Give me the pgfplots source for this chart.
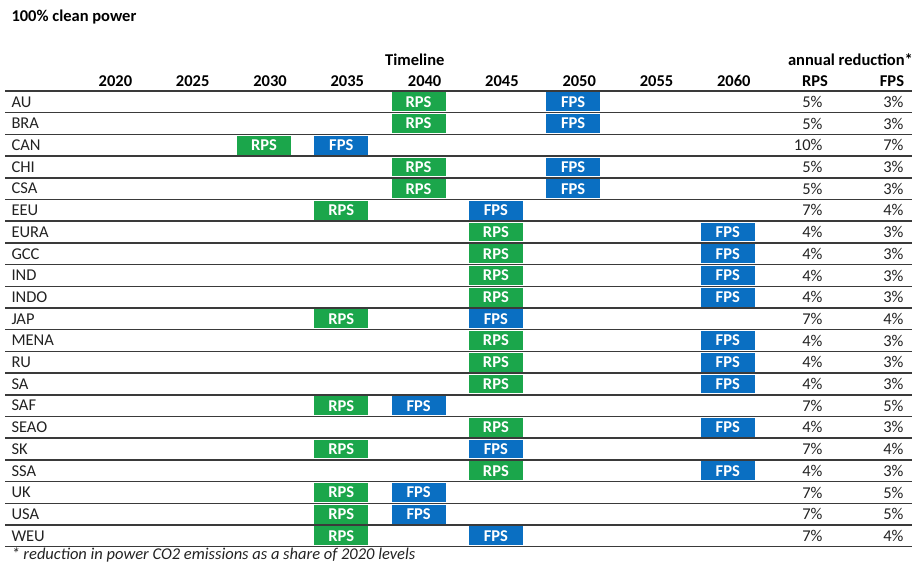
\documentclass[border=0pt]{standalone}
\usepackage{pgfplots}
\pgfplotsset{compat=1.18}
\usepackage{pgfplotstable}
\usepackage{fontspec}
\setmainfont{Carlito}
\definecolor{rpsgreen}{HTML}{1BA64B}
\definecolor{fpsblue}{HTML}{0A6FC2}
\definecolor{rulegray}{HTML}{3A3A3A}
\definecolor{txt}{HTML}{222222}

\pgfdeclareplotmark{cellbox}{%
  \pgfpathrectangle{\pgfpoint{-27pt}{-9.4pt}}{\pgfpoint{54pt}{18.8pt}}%
  \pgfusepathqfill}

% row index, region, RPS year, FPS year, annual reduction RPS, FPS (%)
\pgfplotstableread{
row name rps fps rpsr fpsr
0 AU 2040 2050 5 3
1 BRA 2040 2050 5 3
2 CAN 2030 2035 10 7
3 CHI 2040 2050 5 3
4 CSA 2040 2050 5 3
5 EEU 2035 2045 7 4
6 EURA 2045 2060 4 3
7 GCC 2045 2060 4 3
8 IND 2045 2060 4 3
9 INDO 2045 2060 4 3
10 JAP 2035 2045 7 4
11 MENA 2045 2060 4 3
12 RU 2045 2060 4 3
13 SA 2045 2060 4 3
14 SAF 2035 2040 7 5
15 SEAO 2045 2060 4 3
16 SK 2035 2045 7 4
17 SSA 2045 2060 4 3
18 UK 2035 2040 7 5
19 USA 2035 2040 7 5
20 WEU 2035 2045 7 4
}\data

\pgfplotstableread{
x label
2021.7 2020
2026.7 2025
2031.7 2030
2036.7 2035
2041.7 2040
2046.7 2045
2051.7 2050
2056.7 2055
2061.7 2060
}\yearheads

\newcommand{\fs}{\fontsize{16.5}{19}\selectfont}

\begin{document}
\begin{tikzpicture}[font=\fs]
\begin{axis}[
  width=918pt, height=564pt, scale only axis,
  xmin=2012.924, xmax=2072.303,
  ymin=-4.6935, ymax=21.297, y dir=reverse,
  hide axis, clip=false,
  unbounded coords=jump,
  /pgf/number format/assume math mode=true,
]
\path (rel axis cs:0,0) rectangle (rel axis cs:1,1);
% row rules
\addplot[rulegray, line width=1.5pt, forget plot] coordinates {
(2013.25,-0.5) (2071.92,-0.5) (2013.25,nan)
(2013.25,0.5) (2071.92,0.5) (2013.25,nan)
(2013.25,1.5) (2071.92,1.5) (2013.25,nan)
(2013.25,2.5) (2071.92,2.5) (2013.25,nan)
(2013.25,3.5) (2071.92,3.5) (2013.25,nan)
(2013.25,4.5) (2071.92,4.5) (2013.25,nan)
(2013.25,5.5) (2071.92,5.5) (2013.25,nan)
(2013.25,6.5) (2071.92,6.5) (2013.25,nan)
(2013.25,7.5) (2071.92,7.5) (2013.25,nan)
(2013.25,8.5) (2071.92,8.5) (2013.25,nan)
(2013.25,9.5) (2071.92,9.5) (2013.25,nan)
(2013.25,10.5) (2071.92,10.5) (2013.25,nan)
(2013.25,11.5) (2071.92,11.5) (2013.25,nan)
(2013.25,12.5) (2071.92,12.5) (2013.25,nan)
(2013.25,13.5) (2071.92,13.5) (2013.25,nan)
(2013.25,14.5) (2071.92,14.5) (2013.25,nan)
(2013.25,15.5) (2071.92,15.5) (2013.25,nan)
(2013.25,16.5) (2071.92,16.5) (2013.25,nan)
(2013.25,17.5) (2071.92,17.5) (2013.25,nan)
(2013.25,18.5) (2071.92,18.5) (2013.25,nan)
(2013.25,19.5) (2071.92,19.5) (2013.25,nan)
(2013.25,20.5) (2071.92,20.5)
};
% RPS boxes
\addplot[only marks, mark=cellbox, color=rpsgreen,
  nodes near coords={RPS},
  every node near coord/.append style={anchor=center, text=white, font=\fs\bfseries}]
  table[x=rps, y=row] {\data};
% FPS boxes
\addplot[only marks, mark=cellbox, color=fpsblue,
  nodes near coords={FPS},
  every node near coord/.append style={anchor=center, text=white, font=\fs\bfseries}]
  table[x=fps, y=row] {\data};
% row names
\addplot[only marks, mark=none, point meta=explicit symbolic,
  nodes near coords,
  every node near coord/.append style={anchor=west, text=txt}]
  table[x expr=2013.44, y=row, meta=name] {\data};
% annual reduction RPS
\addplot[only marks, mark=none, point meta=\thisrow{rpsr},
  nodes near coords={\pgfmathprintnumber{\pgfplotspointmeta}\%},
  every node near coord/.append style={anchor=east, text=txt}]
  table[x expr=2066.35, y=row] {\data};
% annual reduction FPS
\addplot[only marks, mark=none, point meta=\thisrow{fpsr},
  nodes near coords={\pgfmathprintnumber{\pgfplotspointmeta}\%},
  every node near coord/.append style={anchor=east, text=txt}]
  table[x expr=2071.59, y=row] {\data};
% year headers
\addplot[only marks, mark=none, point meta=explicit symbolic,
  nodes near coords,
  every node near coord/.append style={anchor=east, text=black, font=\fs\bfseries}]
  table[x=x, y expr=-0.96, meta=label] {\yearheads};

\node[anchor=center, font=\fs\bfseries] at (axis cs:2065.64,-0.96) {RPS};
\node[anchor=center, font=\fs\bfseries] at (axis cs:2070.62,-0.96) {FPS};
\node[anchor=east, font=\fs\bfseries] at (axis cs:2041.9,-1.93) {Timeline};
\node[anchor=east, font=\fs\bfseries] at (axis cs:2072.2,-1.93) {annual reduction*};
\node[anchor=west, font=\fs\bfseries] at (axis cs:2013.44,-3.91) {100\% clean power};
\node[anchor=west, text=txt, font=\fs\itshape] at (axis cs:2013.44,20.88) {* reduction in power CO2 emissions as a share of 2020 levels};
\end{axis}
\end{tikzpicture}
\end{document}
